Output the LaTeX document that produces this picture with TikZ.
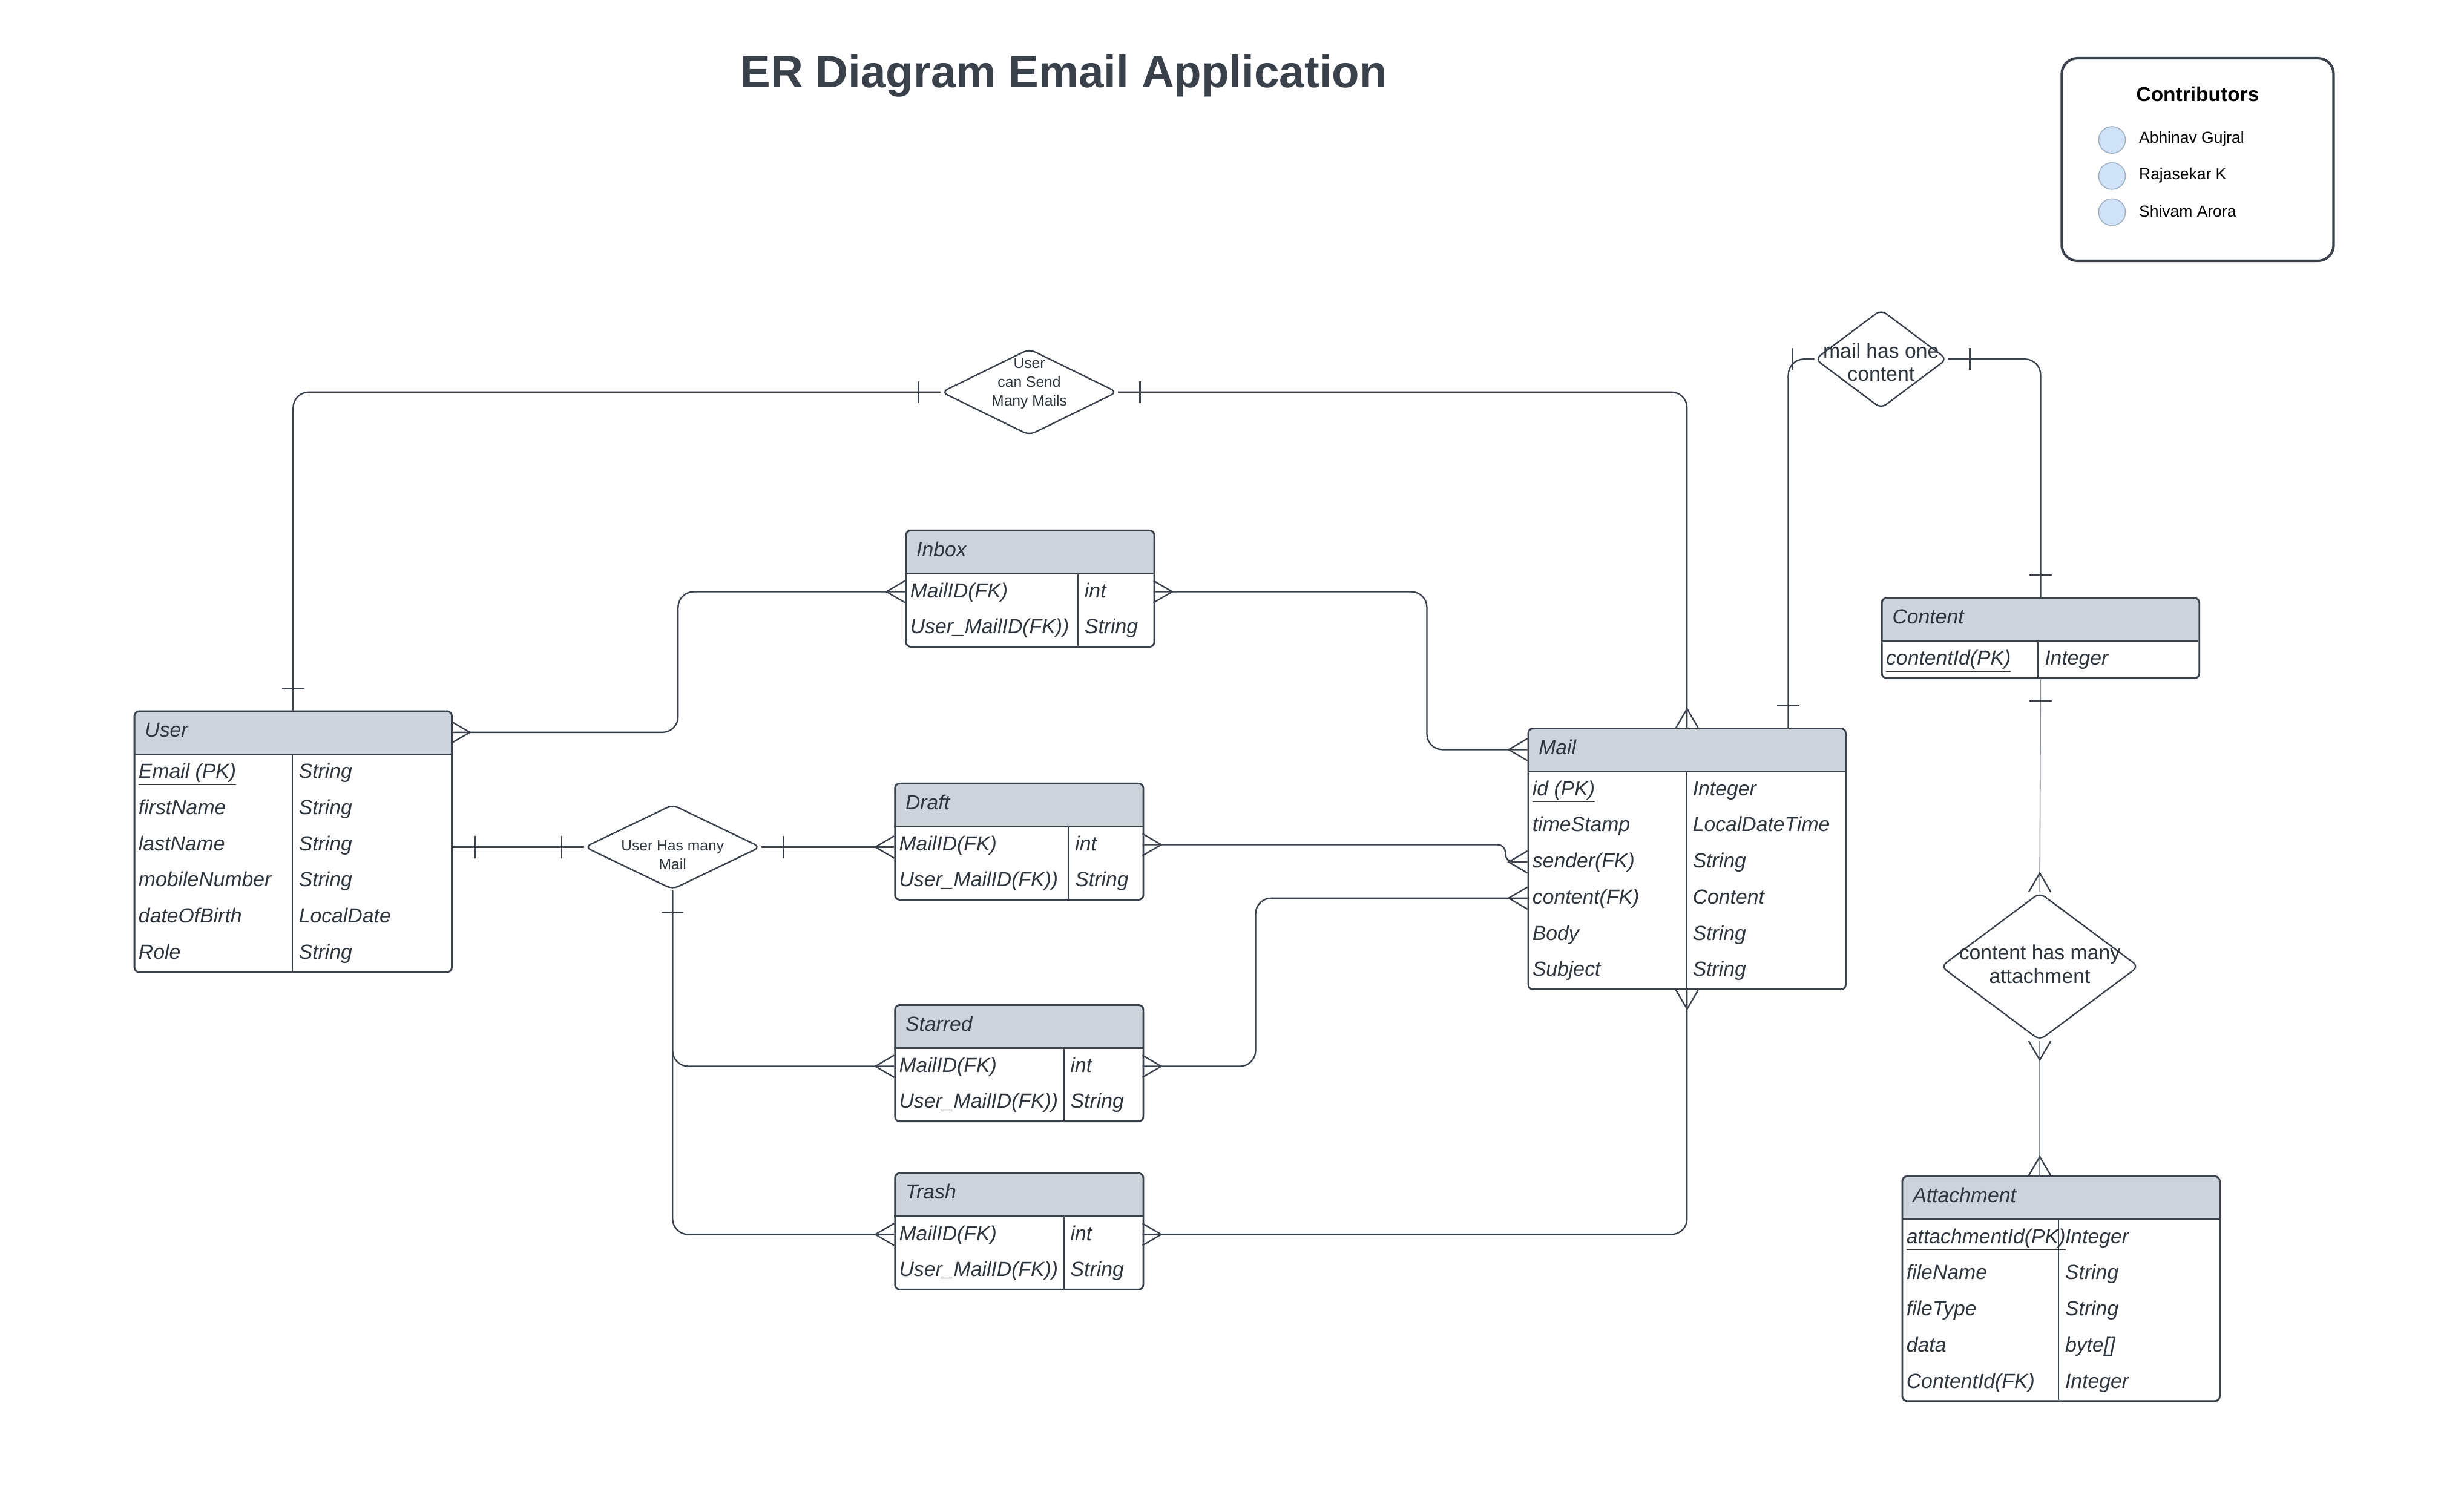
\documentclass[tikz,border=0pt]{standalone}
\usepackage{fontspec}
\setmainfont{Liberation Sans}
\usetikzlibrary{shapes.geometric,calc}
\definecolor{ln}{HTML}{3A414A}
\definecolor{hdr}{HTML}{CDD3DB}
\definecolor{txt}{HTML}{2F353C}
\definecolor{circ}{HTML}{CFE2F8}
\definecolor{circb}{HTML}{9FB0C2}
\definecolor{thin}{HTML}{8A9099}

\tikzset{
 tabbox/.style={draw=ln, line width=1.1pt, rounded corners=3pt, inner sep=0pt, anchor=north west},
 tabline/.style={draw=ln, line width=1pt},
 divline/.style={draw=ln, line width=0.8pt},
 ttl/.style={anchor=base west, inner sep=0pt, text=txt, font=\fontsize{13}{15}\selectfont\itshape},
 att/.style={anchor=base west, inner sep=0pt, text=txt, font=\fontsize{13}{15}\selectfont\itshape},
 conn/.style={draw=ln, line width=0.9pt, rounded corners=10pt},
 rel/.style={diamond, draw=ln, line width=0.9pt, rounded corners=4pt, inner sep=0pt, fill=white},
 relsmall/.style={align=center, text=txt, inner sep=0pt, font=\fontsize{9.5}{12}\selectfont},
 relbig/.style={align=center, text=txt, inner sep=0pt, font=\fontsize{13}{15}\selectfont},
 many/.pic={\draw[ln, line width=0.9pt] (0,7) -- (12,0) -- (0,-7);},
 one/.pic={\draw[ln, line width=0.9pt] (14,7) -- (14,-7);},
 contname/.style={anchor=west, inner sep=0pt, text=black, font=\fontsize{10.2}{12}\selectfont},
 dot/.style={circle, draw=circb, fill=circ, line width=0.6pt, minimum size=17pt, inner sep=0pt},
}

\newcommand\ertab[7]{%
 \pgfmathsetmacro\ERhb{#3+28}%
 \pgfmathsetmacro\ERyb{#3+28+23*#6}%
 \pgfmathsetmacro\ERw{#4-#2}%
 \pgfmathsetmacro\ERh{28+23*#6}%
 \xdef\ERxa{#2}\xdef\ERxb{#4}\xdef\ERd{#5}\xdef\ERhbg{\ERhb}%
 \fill[hdr, rounded corners=3pt] (#2,#3) rectangle (#4,\ERhb);
 \fill[hdr] (#2,#3+6) rectangle (#4,\ERhb);
 \node[tabbox, minimum width=\ERw pt, minimum height=\ERh pt] (#1) at (#2,#3) {};
 \draw[tabline] (#2,\ERhb) -- (#4,\ERhb);
 \draw[divline] (#5,\ERhb) -- (#5,\ERyb);
 \node[ttl] (#1-t) at (#2+7,#3+17) {#7};
 \coordinate (#1-HL) at (#2,#3+14);
 \coordinate (#1-HR) at (#4,#3+14);
}
\newcommand\attr[4]{%
 \pgfmathsetmacro\ERbl{\ERhbg+23*(#2-1)+15.2}%
 \pgfmathsetmacro\ERyc{\ERhbg+23*(#2-1)+11.5}%
 \node[att] (#1-a#2) at (\ERxa+3,\ERbl) {#3};
 \node[att] (#1-b#2) at (\ERd+4,\ERbl) {#4};
 \coordinate (#1-L#2) at (\ERxa,\ERyc);
 \coordinate (#1-R#2) at (\ERxb,\ERyc);
}

\begin{document}
\begin{tikzpicture}[x=1pt,y=-1pt]
\fill[white] (0,0) rectangle (1568,960);
\useasboundingbox (0,0) rectangle (1568,960);

% title
\node[text=ln, font=\fontsize{28.7}{34}\selectfont\bfseries, inner sep=0pt, anchor=base] (title) at (677,55.5) {ER Diagram Email Application};

% contributors
\node[draw=ln, line width=1.6pt, rounded corners=10pt, minimum width=173pt, minimum height=129pt, inner sep=0pt] (contrib) at (1398.5,101.5) {};
\node[font=\fontsize{12.9}{15}\selectfont\bfseries, text=black, inner sep=0pt] (contribt) at (1398.5,60) {Contributors};
\node[dot] (c1) at (1344,89) {};
\node[dot] (c2) at (1344,112) {};
\node[dot] (c3) at (1344,135) {};
\node[contname] (n1) at (1361,88.5) {Abhinav Gujral};
\node[contname] (n2) at (1361,111.5) {Rajasekar K};
\node[contname] (n3) at (1361,134.5) {Shivam Arora};

% tables
\ertab{user}{85}{452}{287}{186}{6}{User}
\attr{user}{1}{\underline{Email (PK)}}{String}
\attr{user}{2}{firstName}{String}
\attr{user}{3}{lastName}{String}
\attr{user}{4}{mobileNumber}{String}
\attr{user}{5}{dateOfBirth}{LocalDate}
\attr{user}{6}{Role}{String}

\ertab{inbox}{576}{337}{734}{686}{2}{Inbox}
\attr{inbox}{1}{MailID(FK)}{int}
\attr{inbox}{2}{User\_MailID(FK))}{String}

\ertab{draft}{569}{498}{727}{680}{2}{Draft}
\attr{draft}{1}{MailID(FK)}{int}
\attr{draft}{2}{User\_MailID(FK))}{String}

\ertab{starred}{569}{639}{727}{677}{2}{Starred}
\attr{starred}{1}{MailID(FK)}{int}
\attr{starred}{2}{User\_MailID(FK))}{String}

\ertab{trash}{569}{746}{727}{677}{2}{Trash}
\attr{trash}{1}{MailID(FK)}{int}
\attr{trash}{2}{User\_MailID(FK))}{String}

\ertab{mail}{972}{463}{1174}{1073}{6}{Mail}
\attr{mail}{1}{\underline{id (PK)}}{Integer}
\attr{mail}{2}{timeStamp}{LocalDateTime}
\attr{mail}{3}{sender(FK)}{String}
\attr{mail}{4}{content(FK)}{Content}
\attr{mail}{5}{Body}{String}
\attr{mail}{6}{Subject}{String}

\ertab{content}{1197}{380}{1399}{1297}{1}{Content}
\attr{content}{1}{\underline{contentId(PK)}}{Integer}

\ertab{attach}{1210}{748}{1412}{1310}{5}{Attachment}
\attr{attach}{1}{\underline{attachmentId(PK)}}{Integer}
\attr{attach}{2}{fileName}{String}
\attr{attach}{3}{fileType}{String}
\attr{attach}{4}{data}{byte[]}
\attr{attach}{5}{ContentId(FK)}{Integer}

% relationships
\node[rel, minimum width=112pt, minimum height=55pt] (d1) at (655,249.5) {};
\node[relsmall] (d1t) at (655,244) {User\\can Send\\Many Mails};
\node[rel, minimum width=84pt, minimum height=63pt] (d2) at (1197,228.5) {};
\node[relbig] (d2t) at (1197,230.5) {mail has one\\content};
\node[rel, minimum width=112pt, minimum height=54pt] (d3) at (428,539) {};
\node[relsmall] (d3t) at (428,544) {User Has many\\Mail};
\node[rel, minimum width=126pt, minimum height=94pt] (d4) at (1298,615) {};
\node[relbig] (d4t) at (1298,613.5) {content has many\\attachment};

\coordinate (mailtop) at (1138,463);

% connectors
\draw[conn] (user.north) |- (d1.west);
\pic[rotate=90] at (user.north) {one};
\pic[rotate=180] at (d1.west) {one};

\draw[conn] (d1.east) -| (mail.north);
\pic at (d1.east) {one};
\pic[rotate=90] at (mail.north) {many};

\draw[conn] (inbox-L1) -| ($(inbox-L1)!.5!(user-HR)$) |- (user-HR);
\pic[rotate=180] at (inbox-L1) {many};
\pic at (user-HR) {many};

\draw[conn] (inbox-R1) -| (908,477) -- (mail-HL);
\pic at (inbox-R1) {many};
\pic[rotate=180] at (mail-HL) {many};

\draw[conn] (user.east |- d3.west) -- (d3.west);
\pic at (user.east |- d3.west) {one};
\pic[rotate=180] at (d3.west) {one};

\draw[conn] (d3.east) -- (d3.east -| draft.west);
\pic at (d3.east) {one};
\pic[rotate=180] at (d3.east -| draft.west) {many};

\draw[conn] (d3.south) |- (starred-L1);
\draw[conn] (d3.south) |- (trash-L1);
\pic[rotate=-90] at (d3.south) {one};
\pic[rotate=180] at (starred-L1) {many};
\pic[rotate=180] at (trash-L1) {many};

\draw[conn, rounded corners=5pt] (draft-R1) -| (958,548.5) -- (mail-L3);
\pic at (draft-R1) {many};
\pic[rotate=180] at (mail-L3) {many};

\draw[conn] (starred-R1) -| (799,571.5) -- (mail-L4);
\pic at (starred-R1) {many};
\pic[rotate=180] at (mail-L4) {many};

\draw[conn] (trash-R1) -| (mail.south);
\pic at (trash-R1) {many};
\pic[rotate=-90] at (mail.south) {many};

\draw[conn] (mailtop) |- (d2.west);
\pic[rotate=90] at (mailtop) {one};
\pic[rotate=180] at (d2.west) {one};

\draw[conn] (d2.east) -| (content.north);
\pic at (d2.east) {one};
\pic[rotate=90] at (content.north) {one};

\draw[draw=thin, line width=0.6pt] (content.south) -- (d4.north);
\pic[rotate=-90] at (content.south) {one};
\pic[rotate=90] at (d4.north) {many};

\draw[draw=thin, line width=0.6pt] (d4.south) -- (d4.south |- attach.north);
\pic[rotate=-90] at (d4.south) {many};
\pic[rotate=90] at (d4.south |- attach.north) {many};
\end{tikzpicture}
\end{document}
